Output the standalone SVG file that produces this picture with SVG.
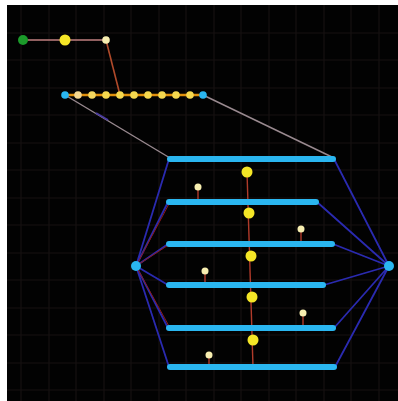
<svg xmlns="http://www.w3.org/2000/svg" width="398" height="401" viewBox="0 0 398 401">
<defs>
<style>
.grid line{stroke:#171111;stroke-width:1.2}
.bar{stroke:#29b6f0;stroke-width:6;stroke-linecap:round}
.hubline{stroke:#2a2ab0;stroke-width:1.8;fill:none}
.redline{stroke:#8a1c1c;stroke-width:1;fill:none}
.stem{stroke:#b03a2a;stroke-width:1.4}
.big{fill:#f5e628}
.small{fill:#f7eeb0}
.blue{fill:#29b6f0}
</style>
<filter id="glow" x="-20%" y="-20%" width="140%" height="140%"><feGaussianBlur stdDeviation="0.7"/></filter>
</defs>
<rect width="398" height="401" fill="#ffffff"/>
<rect x="7" y="5" width="391" height="396" fill="#020202"/>
<g class="grid">
<line x1="21" y1="5" x2="21" y2="401"/><line x1="49" y1="5" x2="49" y2="401"/><line x1="76" y1="5" x2="76" y2="401"/><line x1="104" y1="5" x2="104" y2="401"/><line x1="131" y1="5" x2="131" y2="401"/><line x1="159" y1="5" x2="159" y2="401"/><line x1="186" y1="5" x2="186" y2="401"/><line x1="214" y1="5" x2="214" y2="401"/><line x1="241" y1="5" x2="241" y2="401"/><line x1="269" y1="5" x2="269" y2="401"/><line x1="296" y1="5" x2="296" y2="401"/><line x1="324" y1="5" x2="324" y2="401"/><line x1="351" y1="5" x2="351" y2="401"/><line x1="379" y1="5" x2="379" y2="401"/>
<line x1="7" y1="33" x2="398" y2="33"/><line x1="7" y1="60" x2="398" y2="60"/><line x1="7" y1="88" x2="398" y2="88"/><line x1="7" y1="115" x2="398" y2="115"/><line x1="7" y1="143" x2="398" y2="143"/><line x1="7" y1="170" x2="398" y2="170"/><line x1="7" y1="198" x2="398" y2="198"/><line x1="7" y1="225" x2="398" y2="225"/><line x1="7" y1="253" x2="398" y2="253"/><line x1="7" y1="280" x2="398" y2="280"/><line x1="7" y1="308" x2="398" y2="308"/><line x1="7" y1="335" x2="398" y2="335"/><line x1="7" y1="363" x2="398" y2="363"/><line x1="7" y1="390" x2="398" y2="390"/>
</g>
<g id="connectors" filter="url(#glow)">
<line x1="23" y1="40" x2="106" y2="40" stroke="#c08080" stroke-width="1.4"/>
<line x1="106" y1="40" x2="120" y2="95" stroke="#b04a2a" stroke-width="1.6"/>
<line x1="65" y1="95" x2="203" y2="95" stroke="#e09010" stroke-width="2.5"/>
<line x1="65" y1="95" x2="170" y2="158" stroke="#9a8a90" stroke-width="1.4"/>
<line x1="203" y1="95" x2="334" y2="158" stroke="#9a8a90" stroke-width="1.4"/>
<line x1="96" y1="113" x2="108" y2="120" stroke="#4a3aa0" stroke-width="2"/>
<path class="hubline" d="M136 266 L169 159 M136 266 L168 202 M136 266 L168 244 M136 266 L168 285 M136 266 L168 328 M136 266 L169 367"/>
<path class="hubline" d="M389 266 L334 159 M389 266 L317 202 M389 266 L333 244 M389 266 L324 285 M389 266 L334 328 M389 266 L335 367"/>
<path class="redline" d="M136 266 L170 202 M136 266 L170 244 M136 266 L170 328"/>
<line x1="247" y1="172" x2="253" y2="367" class="stem"/>
<line x1="198" y1="187" x2="198" y2="201" class="stem"/>
<line x1="301" y1="229" x2="301" y2="243" class="stem"/>
<line x1="205" y1="271" x2="205" y2="285" class="stem"/>
<line x1="303" y1="313" x2="303" y2="328" class="stem"/>
<line x1="209" y1="355" x2="209" y2="367" class="stem"/>
</g>
<g filter="url(#glow)">
<g id="n-green"><circle cx="23" cy="40" r="5" fill="#1a9a2a"/></g>
<g id="n-yellow-top"><circle cx="65" cy="40" r="5.5" class="big"/></g>
<g id="n-small-top"><circle cx="106" cy="40" r="3.8" class="small"/></g>
<g id="n-row-left"><circle cx="65" cy="95" r="3.8" class="blue"/></g>
<g id="n-row-right"><circle cx="203" cy="95" r="3.8" class="blue"/></g>
<g id="n-row-dots">
<circle cx="78" cy="95" r="3.8" fill="#f5d890"/><circle cx="92" cy="95" r="3.8" fill="#f5d860"/><circle cx="106" cy="95" r="3.8" fill="#f5d850"/><circle cx="120" cy="95" r="3.8" fill="#f5d850"/><circle cx="134" cy="95" r="3.8" fill="#f5d850"/><circle cx="148" cy="95" r="3.8" fill="#f5d850"/><circle cx="162" cy="95" r="3.8" fill="#f5d850"/><circle cx="176" cy="95" r="3.8" fill="#f5d850"/><circle cx="190" cy="95" r="3.8" fill="#f5d850"/>
</g>
<g id="bars">
<line class="bar" x1="170" y1="159" x2="333" y2="159"/>
<line class="bar" x1="169" y1="202" x2="316" y2="202"/>
<line class="bar" x1="169" y1="244" x2="332" y2="244"/>
<line class="bar" x1="169" y1="285" x2="323" y2="285"/>
<line class="bar" x1="169" y1="328" x2="333" y2="328"/>
<line class="bar" x1="170" y1="367" x2="334" y2="367"/>
</g>
<g id="hub-left"><circle cx="136" cy="266" r="5" class="blue"/></g>
<g id="hub-right"><circle cx="389" cy="266" r="5" class="blue"/></g>
<g id="big-nodes">
<circle cx="247" cy="172" r="5.5" class="big"/>
<circle cx="249" cy="213" r="5.5" class="big"/>
<circle cx="251" cy="256" r="5.5" class="big"/>
<circle cx="252" cy="297" r="5.5" class="big"/>
<circle cx="253" cy="340" r="5.5" class="big"/>
</g>
<g id="small-nodes">
<circle cx="198" cy="187" r="3.5" class="small"/>
<circle cx="301" cy="229" r="3.5" class="small"/>
<circle cx="205" cy="271" r="3.5" class="small"/>
<circle cx="303" cy="313" r="3.5" class="small"/>
<circle cx="209" cy="355" r="3.5" class="small"/>
</g>
</g>
</svg>
